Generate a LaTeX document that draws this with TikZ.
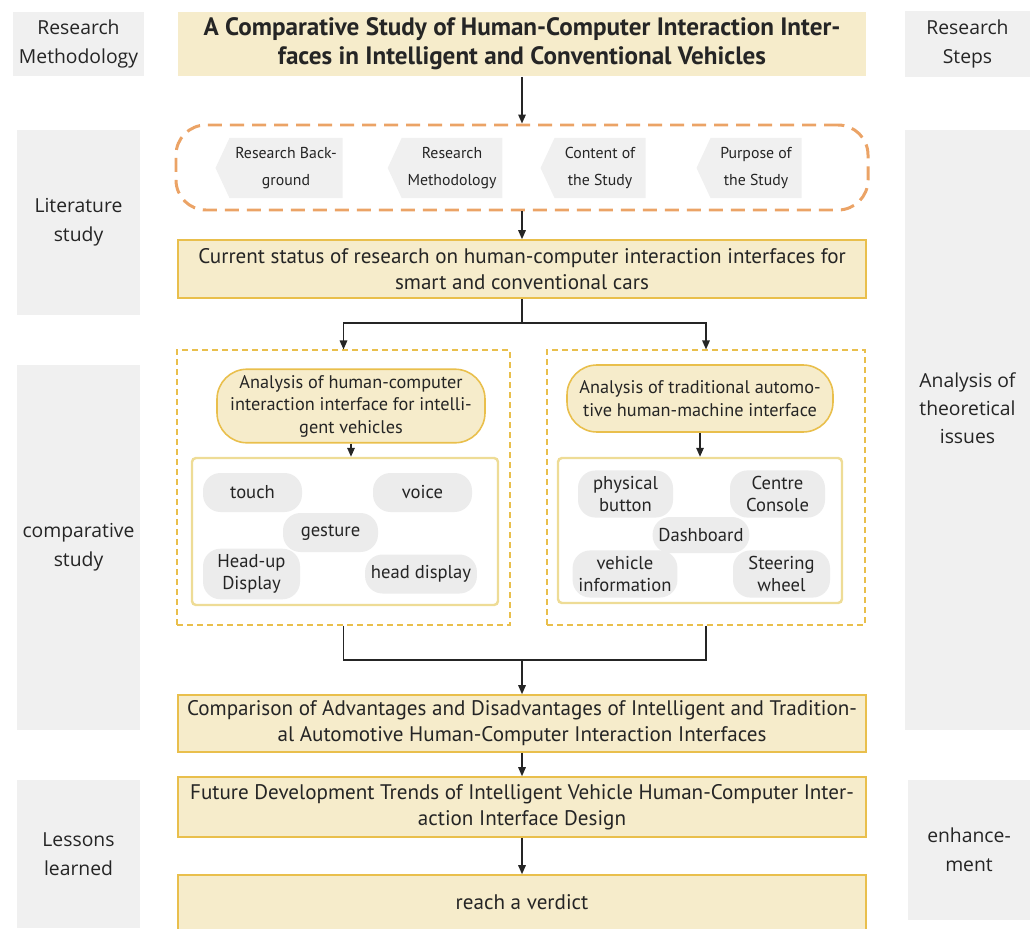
\documentclass[tikz,border=0pt]{standalone}
\usepackage{fontspec}
\setmainfont{PT Sans}
\newfontfamily\sidefont{Open Sans}
\usepackage{tikz}
\usetikzlibrary{positioning,shapes.symbols,arrows.meta}
\definecolor{beige}{HTML}{F6ECCB}
\definecolor{gold}{HTML}{E9BF4C}
\definecolor{paleline}{HTML}{EEDC96}
\definecolor{orangedash}{HTML}{EBA366}
\definecolor{sidegray}{HTML}{F0F0F0}
\definecolor{pillgray}{HTML}{ECECEC}
\definecolor{ink}{HTML}{252525}

\begin{document}
\begin{tikzpicture}[x=0.2mm,y=-0.2mm,
  side/.style={fill=sidegray, minimum width=24.6mm, align=center, text=ink, font=\sidefont\fontsize{11}{16.5}\selectfont},
  mainbox/.style={fill=beige, draw=gold, line width=0.9pt, minimum width=137.6mm, align=center, text=ink, font=\fontsize{12}{14.8}\selectfont},
  pillbox/.style={fill=beige, draw=gold, line width=0.9pt, rounded corners=6mm, align=center, text=ink, font=\fontsize{10.4}{12.8}\selectfont},
  itembox/.style={fill=pillgray, rounded corners=3.5mm, minimum height=7.8mm, align=center, text=ink, font=\fontsize{10.6}{12.5}\selectfont},
  tagbox/.style={signal, signal to=west, signal pointer angle=130, fill=pillgray!80, minimum width=23mm, minimum height=12mm, align=center, text=ink, font=\fontsize{9}{15.4}\selectfont},
  groupbox/.style={draw=gold, line width=0.6pt, dash pattern=on 1.2mm off 0.8mm},
  innerbox/.style={draw=paleline, line width=1.4pt, fill=white, rounded corners=0.8mm},
  flow/.style={draw=ink, line width=0.85pt, -{Triangle[length=1.8mm,width=1.5mm]}},
  link/.style={draw=ink, line width=0.85pt}]
\useasboundingbox (0,0) rectangle (1035,928);

% side columns
\node[side, minimum height=12.8mm] (methodside) at (78.5,44) {Research\\Methodology};
\node[side, minimum height=37mm] (litside) at (78.5,222.5) {Literature\\study};
\node[side, minimum height=73mm] (compside) at (78.5,547.5) {comparative\\study};
\node[side, minimum height=29.6mm] (lessonside) at (78.5,854) {Lessons\\learned};
\node[side, minimum width=25mm, minimum height=13.2mm] (stepside) at (967.5,44) {Research\\Steps};
\node[side, minimum width=25mm, minimum height=120mm] (theoryside) at (967.5,430) {};
\node[align=center, text=ink, font=\sidefont\fontsize{11}{15.8}\selectfont] (theorytext) at (967.5,408) {Analysis of\\theoretical\\issues};
\node[side, minimum width=24.4mm, minimum height=28mm] (enhside) at (969,850) {enhance-\\ment};

% main flow
\node[mainbox, draw=none, minimum height=12.8mm, font=\bfseries\fontsize{14.3}{16.5}\selectfont] (title) at (522,44)
  {A Comparative Study of Human-Computer Interaction Inter-\\faces in Intelligent and Conventional Vehicles};
\node[draw=orangedash, line width=1.7pt, dash pattern=on 2.8mm off 1.6mm, rounded corners=6mm,
  minimum width=138.4mm, minimum height=17mm] (litframe) at (522,167.5) {};
\node[tagbox] (background) at (286,168) {Research Back-\\ground};
\node[tagbox, minimum width=21mm] (method) at (452,168) {Research\\Methodology};
\node[tagbox, minimum width=21mm] (content) at (600,168) {Content of\\the Study};
\node[tagbox, minimum width=21mm] (purpose) at (756,168) {Purpose of\\the Study};
\node[mainbox, minimum height=11.6mm] (current) at (522,269)
  {Current status of research on human-computer interaction interfaces for\\smart and conventional cars};

\node[groupbox, minimum width=66.6mm, minimum height=55mm] (intgroup) at (343.5,487.5) {};
\node[groupbox, minimum width=63.6mm, minimum height=55mm] (tradgroup) at (706,487.5) {};

\node[pillbox, minimum width=53.6mm, minimum height=13.6mm] (intpill) at (351,406)
  {Analysis of human-computer\\interaction interface for intelli-\\gent vehicles};
\node[innerbox, minimum width=61.2mm, minimum height=29.4mm] (intinner) at (345,531.5) {};
\node[itembox, minimum width=19.8mm] (touch) at (252.5,492.5) {touch};
\node[itembox, minimum width=19.8mm] (voice) at (422.5,492.5) {voice};
\node[itembox, minimum width=19mm] (gesture) at (330.5,532.5) {gesture};
\node[itembox, minimum width=19.4mm] (hud) at (251.5,574) {Head-up\\Display};
\node[itembox, minimum width=20.4mm] (headdisp) at (421,574) {head display};

\node[pillbox, minimum width=53.2mm, minimum height=13.4mm] (tradpill) at (700,398.5)
  {Analysis of traditional automo-\\tive human-machine interface};
\node[innerbox, minimum width=56.8mm, minimum height=29mm] (tradinner) at (700,530.5) {};
\node[itembox, minimum width=19mm] (button) at (625.5,494) {physical\\button};
\node[itembox, minimum width=19mm] (console) at (777.5,494) {Centre\\Console};
\node[itembox, minimum width=18.4mm, minimum height=7.2mm] (dashboard) at (701,535) {Dashboard};
\node[itembox, minimum width=20mm] (vehinfo) at (625,574) {vehicle\\information};
\node[itembox, minimum width=19.4mm] (wheel) at (781.5,574) {Steering\\wheel};

\node[mainbox, minimum height=11.4mm] (compare) at (522,723.5)
  {Comparison of Advantages and Disadvantages of Intelligent and Tradition-\\al Automotive Human-Computer Interaction Interfaces};
\node[mainbox, minimum height=12mm] (future) at (522,807)
  {Future Development Trends of Intelligent Vehicle Human-Computer Inter-\\action Interface Design};
\node[mainbox, minimum height=11mm] (verdict) at (522,902.5) {reach a verdict};

% connectors
\coordinate (split) at (522,323);
\coordinate (join) at (522,660);
\draw[flow] (title) -- (litframe);
\draw[flow] (litframe) -- (current);
\draw[link] (current) -- (split);
\draw[flow] (split) -| (intgroup.north);
\draw[flow] (split) -| (tradgroup.north);
\draw[flow] (intpill.south) -- (intpill.south |- intinner.north);
\draw[flow] (tradpill) -- (tradpill.south |- tradinner.north);
\draw[link] (intgroup.south) |- (join);
\draw[link] (tradgroup.south) |- (join);
\draw[flow] (join) -- (compare);
\draw[flow] (compare) -- (future);
\draw[flow] (future) -- (verdict);
\end{tikzpicture}
\end{document}
